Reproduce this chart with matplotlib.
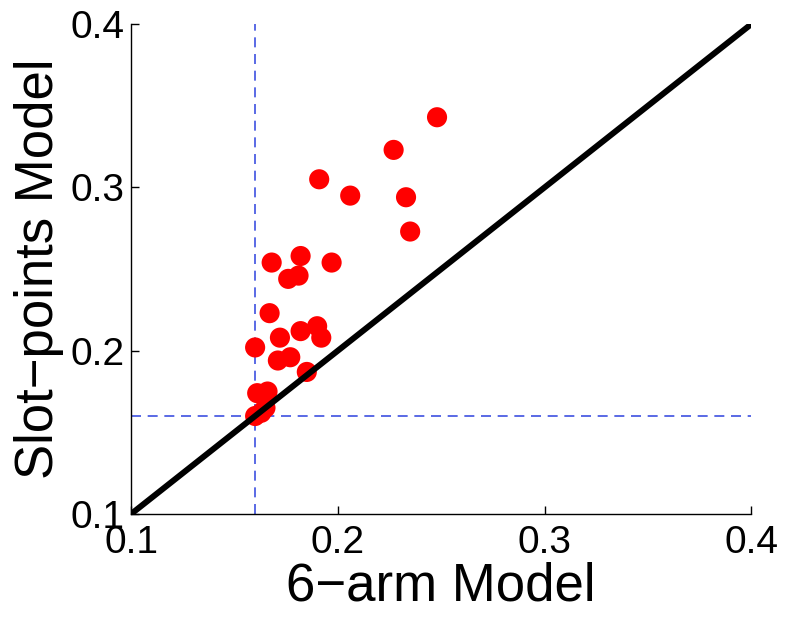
import matplotlib
matplotlib.use("Agg")
import matplotlib.pyplot as plt

plt.rcParams['font.family'] = ['Liberation Sans', 'DejaVu Sans']

six_arm = [0.248, 0.227, 0.191, 0.206, 0.233, 0.235,
           0.168, 0.182, 0.197, 0.176, 0.181, 0.167,
           0.160, 0.172, 0.182, 0.190, 0.192, 0.171,
           0.177, 0.185, 0.161, 0.166, 0.165, 0.160, 0.163]
slot_points = [0.343, 0.323, 0.305, 0.295, 0.294, 0.273,
               0.254, 0.258, 0.254, 0.244, 0.246, 0.223,
               0.202, 0.208, 0.212, 0.215, 0.208, 0.194,
               0.196, 0.187, 0.174, 0.175, 0.165, 0.160, 0.162]
threshold = 0.16
ticks = [0.1, 0.2, 0.3, 0.4]
tick_labels = ['0.1', '0.2', '0.3', '0.4']

fig = plt.figure(figsize=(7.85, 6.2), dpi=100)
ax = fig.add_axes([0.167, 0.171, 0.790, 0.790])

ax.plot([0.1, 0.4], [0.1, 0.4], color='black', lw=4.3, zorder=3, solid_capstyle='butt')
ax.scatter(six_arm, slot_points, s=210, color='#ff0000', edgecolors='none', zorder=2)
ax.axvline(threshold, color='#3d50e0', lw=1.2, ls=(0, (6, 4)), zorder=1)
ax.axhline(threshold, color='#3d50e0', lw=1.2, ls=(0, (6, 4)), zorder=1)

ax.set_xlim(0.1, 0.4)
ax.set_ylim(0.1, 0.4)
ax.set_xticks(ticks)
ax.set_xticklabels(tick_labels)
ax.set_yticks(ticks)
ax.set_yticklabels(tick_labels)
ax.tick_params(direction='in', length=6, width=1, labelsize=28)
ax.tick_params(axis='x', pad=8)
ax.tick_params(axis='y', pad=5)
for s in ['top', 'right']:
    ax.spines[s].set_visible(False)
ax.spines['left'].set_linewidth(1)
ax.spines['bottom'].set_linewidth(1)

ax.set_xlabel('6\u2212arm Model', fontsize=38, labelpad=0)
ax.set_ylabel('Slot\u2212points Model', fontsize=38, labelpad=4)

fig.savefig('out.png', dpi=100)
